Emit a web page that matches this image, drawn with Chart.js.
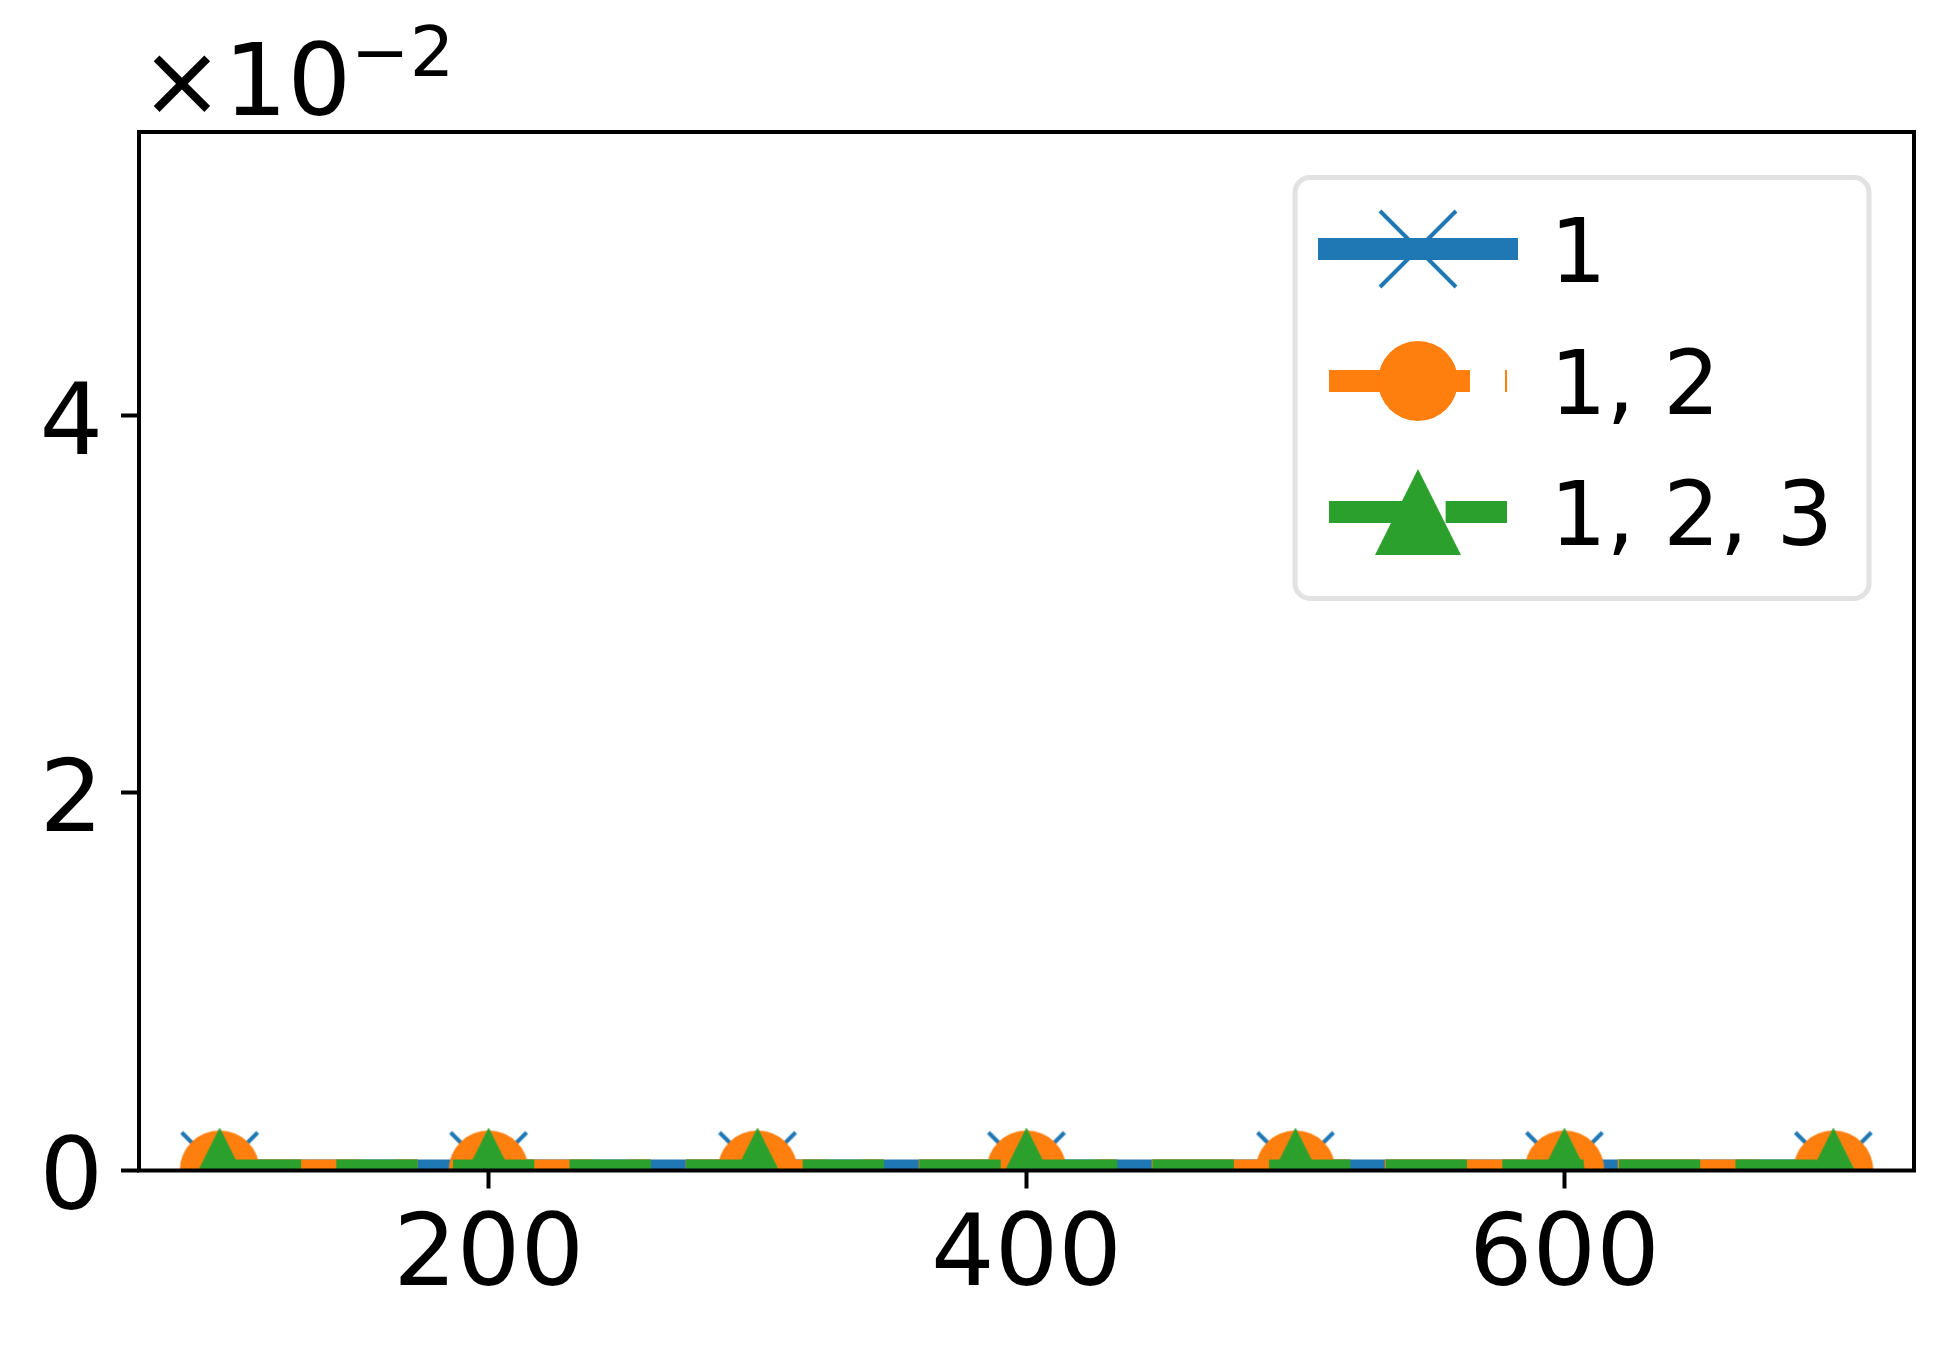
<!DOCTYPE html>
<html>
<head>
<meta charset="utf-8">
<script src="https://cdn.jsdelivr.net/npm/chart.js@4.4.1/dist/chart.umd.min.js"></script>
<style>
  html, body { margin: 0; padding: 0; background: #fff; }
  canvas { display: block; }
</style>
</head>
<body>
<canvas id="chart" width="1953" height="1348"></canvas>
<script>
// ---- data ----
const xValues = [100, 200, 300, 400, 500, 600, 700];
const series1 = [0, 0, 0, 0, 0, 0, 0];
const series12 = [0, 0, 0, 0, 0, 0, 0];
const series123 = [0, 0, 0, 0, 0, 0, 0];
const seriesLabels = ['1', '1, 2', '1, 2, 3'];
const xTicks = [200, 400, 600];
const yTicks = [0, 0.02, 0.04];
const yTickLabels = ['0', '2', '4'];

const BLUE = '#1f77b4', ORANGE = '#ff7f0e', GREEN = '#2ca02c';
const FONT = '"DejaVu Sans", sans-serif';
const LW = 22;

// marker images (matplotlib-like x, o, ^)
function makeMarker(kind, color) {
  const c = document.createElement('canvas');
  const g = c.getContext('2d');
  if (kind === 'x') {
    c.width = 82; c.height = 82;
    g.strokeStyle = color; g.lineWidth = 4;
    g.beginPath();
    g.moveTo(3, 3); g.lineTo(79, 79);
    g.moveTo(79, 3); g.lineTo(3, 79);
    g.stroke();
  } else if (kind === 'o') {
    c.width = 82; c.height = 82;
    g.fillStyle = color;
    g.beginPath(); g.arc(41, 41, 40, 0, Math.PI * 2); g.fill();
  } else {
    c.width = 86; c.height = 86;
    g.fillStyle = color;
    g.beginPath(); g.moveTo(43, 0); g.lineTo(86, 86); g.lineTo(0, 86); g.closePath(); g.fill();
  }
  return c;
}
const markers = [makeMarker('x', BLUE), makeMarker('o', ORANGE), makeMarker('^', GREEN)];

function toPoints(ys) { return xValues.map((x, i) => ({ x: x, y: ys[i] })); }

// ---- frame, y labels, offset text, legend ----
const framePlugin = {
  id: 'frame',
  afterDatasetsDraw(chart) {
    const { ctx, chartArea: a } = chart;
    ctx.save();
    ctx.strokeStyle = '#000';
    ctx.lineWidth = 4;
    ctx.strokeRect(a.left, a.top, a.right - a.left, a.bottom - a.top);
    ctx.restore();
  },
  afterDraw(chart) {
    const ctx = chart.ctx;
    const yScale = chart.scales.y;
    ctx.save();
    ctx.fillStyle = '#000';

    // y tick labels, baseline-aligned like matplotlib
    ctx.font = '100px ' + FONT;
    ctx.textAlign = 'right';
    ctx.textBaseline = 'alphabetic';
    yTicks.forEach((v, i) => {
      ctx.fillText(yTickLabels[i], yScale.right - 36, yScale.getPixelForValue(v) + 38.5);
    });
    ctx.textAlign = 'left';

    // offset label ×10^-2
    ctx.fillText('×10', 140, 115);
    const w = ctx.measureText('×10').width;
    ctx.font = '70px ' + FONT;
    ctx.fillText('\u22122', 140 + w, 76);

    // legend box
    const bx = 1295, by = 177.5, bw = 574, bh = 421, r = 15;
    ctx.beginPath();
    ctx.moveTo(bx + r, by);
    ctx.arcTo(bx + bw, by, bx + bw, by + bh, r);
    ctx.arcTo(bx + bw, by + bh, bx, by + bh, r);
    ctx.arcTo(bx, by + bh, bx, by, r);
    ctx.arcTo(bx, by, bx + bw, by, r);
    ctx.closePath();
    ctx.fillStyle = 'rgba(255,255,255,0.8)';
    ctx.fill();
    ctx.strokeStyle = '#e2e2e2';
    ctx.lineWidth = 5;
    ctx.stroke();

    const rowY = [249, 381, 512];
    chart.data.datasets.forEach((ds, i) => {
      const y = rowY[i];
      ctx.beginPath();
      ctx.setLineDash(ds.borderDash || []);
      ctx.lineDashOffset = 0;
      ctx.lineCap = ds.borderCapStyle;
      ctx.strokeStyle = ds.borderColor;
      ctx.lineWidth = ds.borderWidth;
      ctx.moveTo(1329, y);
      ctx.lineTo(1507, y);
      ctx.stroke();
      ctx.setLineDash([]);
      const m = ds.pointStyle;
      ctx.drawImage(m, 1418 - m.width / 2, y - m.height / 2);
      ctx.fillStyle = '#000';
      ctx.font = '89px ' + FONT;
      ctx.textBaseline = 'alphabetic';
      ctx.fillText(ds.label, 1550, y + 33);
    });
    ctx.restore();
  }
};

new Chart(document.getElementById('chart'), {
  type: 'line',
  data: {
    datasets: [
      {
        label: seriesLabels[0], data: toPoints(series1),
        borderColor: BLUE, borderWidth: LW, borderCapStyle: 'square', borderDash: [],
        pointStyle: markers[0], pointRadius: 40, pointHoverRadius: 40,
        clip: 0, order: 3, fill: false, tension: 0
      },
      {
        label: seriesLabels[1], data: toPoints(series12),
        borderColor: ORANGE, borderWidth: LW, borderCapStyle: 'butt', borderDash: [141, 35, 22, 35],
        pointStyle: markers[1], pointRadius: 40, pointHoverRadius: 40,
        clip: 0, order: 2, fill: false, tension: 0
      },
      {
        label: seriesLabels[2], data: toPoints(series123),
        borderColor: GREEN, borderWidth: LW, borderCapStyle: 'butt', borderDash: [81.4, 35.2],
        pointStyle: markers[2], pointRadius: 40, pointHoverRadius: 40,
        clip: 0, order: 1, fill: false, tension: 0
      }
    ]
  },
  options: {
    responsive: false,
    animation: false,
    devicePixelRatio: 1,
    layout: { autoPadding: false, padding: { left: 0, top: 132, right: 39, bottom: 0 } },
    plugins: { legend: { display: false }, tooltip: { enabled: false } },
    scales: {
      x: {
        type: 'linear', min: 70, max: 730,
        afterBuildTicks: (s) => { s.ticks = xTicks.map(v => ({ value: v })); },
        afterFit: (s) => { s.height = 177.5; s.paddingLeft = 0; s.paddingRight = 0; },
        grid: { drawOnChartArea: false, drawTicks: true, tickLength: 18, tickWidth: 4, tickColor: '#000' },
        border: { display: false },
        ticks: {
          color: '#000', font: { family: FONT, size: 100 }, padding: 11,
          maxRotation: 0, autoSkip: false, callback: (v) => String(v)
        }
      },
      y: {
        type: 'linear', min: 0, max: 0.055,
        afterBuildTicks: (s) => { s.ticks = yTicks.map(v => ({ value: v })); },
        afterFit: (s) => { s.width = 139; s.paddingTop = 0; s.paddingBottom = 0; },
        grid: { drawOnChartArea: false, drawTicks: true, tickLength: 18, tickWidth: 4, tickColor: '#000' },
        border: { display: false },
        ticks: { display: true, color: 'rgba(0,0,0,0)', font: { family: FONT, size: 100 }, padding: 21, autoSkip: false }
      }
    }
  },
  plugins: [framePlugin]
});
</script>
</body>
</html>
